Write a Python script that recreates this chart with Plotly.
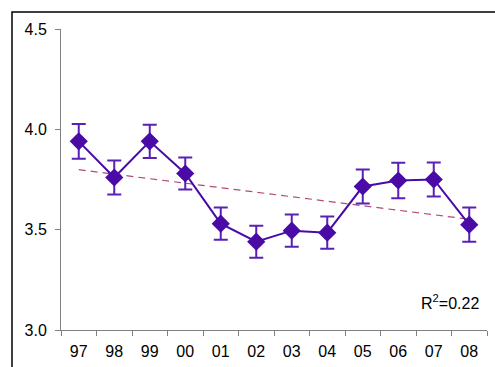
import numpy as np
import plotly.graph_objects as go

# Yearly means with their error margins
years = ["97", "98", "99", "00", "01", "02", "03", "04", "05", "06", "07", "08"]
means = [3.94, 3.76, 3.94, 3.78, 3.53, 3.44, 3.495, 3.485, 3.715, 3.745, 3.75, 3.525]
errors = [0.087, 0.085, 0.083, 0.080, 0.080, 0.080, 0.080, 0.080, 0.085, 0.088, 0.085, 0.085]
y_ticks = [3.0, 3.5, 4.0, 4.5]
r2_label = "R<sup>2</sup>=0.22"

# Least-squares linear trend across the years
idx = np.arange(len(years))
slope, intercept = np.polyfit(idx, means, 1)
trend = slope * idx + intercept

PURPLE = "#4a0aa5"
AXIS = "#808080"
FONT = "Liberation Sans, Arial, sans-serif"

fig = go.Figure()

fig.add_trace(go.Scatter(
    x=years, y=trend, mode="lines",
    line=dict(color="#b04a7c", width=1.2, dash="7px,5px"),
    hoverinfo="skip", showlegend=False,
))

fig.add_trace(go.Scatter(
    x=years, y=means, mode="lines+markers",
    line=dict(color=PURPLE, width=2),
    marker=dict(symbol="diamond", size=14, color=PURPLE),
    error_y=dict(type="data", array=errors, visible=True,
                 color="#5a20b5", thickness=2, width=7),
    showlegend=False,
))

fig.add_annotation(
    x=0.986, y=0.093, xref="paper", yref="paper",
    xanchor="right", yanchor="middle", showarrow=False,
    text=r2_label, font=dict(family=FONT, size=16, color="#000000"),
)

# Outer frame around the chart area
fig.add_shape(
    type="rect", xref="paper", yref="paper",
    x0=-0.115, x1=1.2, y0=-0.3, y1=1.0565,
    line=dict(color="#000000", width=1.5), fillcolor="rgba(0,0,0,0)",
    layer="below",
)

fig.update_layout(
    width=495, height=367,
    margin=dict(l=61, r=8, t=29, b=37),
    paper_bgcolor="white", plot_bgcolor="white",
    font=dict(family=FONT, color="#000000"),
    showlegend=False,
)

fig.update_xaxes(
    type="category", range=[-0.5, len(years) - 0.5],
    tickson="boundaries", ticks="outside", ticklen=5, tickcolor=AXIS,
    showline=True, linecolor=AXIS, linewidth=1,
    showgrid=False, zeroline=False,
    tickfont=dict(family=FONT, size=16), ticklabelstandoff=7,
)

fig.update_yaxes(
    range=[3.0, 4.5], tickvals=y_ticks,
    ticktext=[f"{v:.1f}" for v in y_ticks],
    ticks="outside", ticklen=5, tickcolor=AXIS,
    showline=True, linecolor=AXIS, linewidth=1,
    showgrid=False, zeroline=False,
    tickfont=dict(family=FONT, size=16), ticklabelstandoff=5,
)

fig.write_html("out.html")
